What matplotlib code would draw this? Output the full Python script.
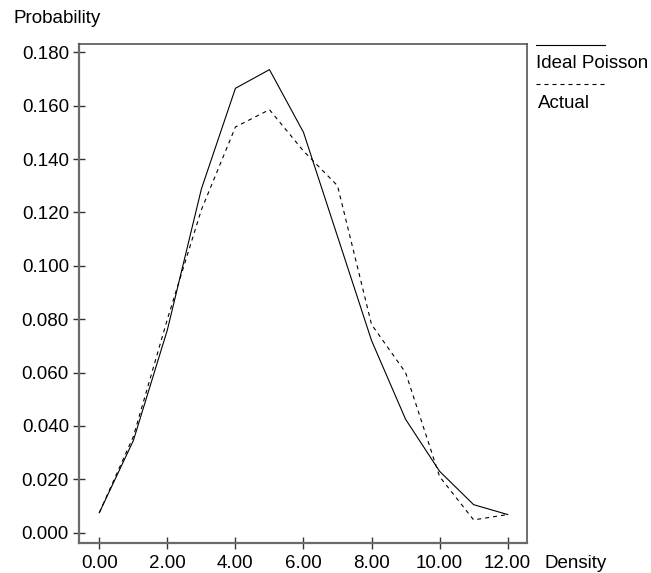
import matplotlib
matplotlib.use("Agg")
import matplotlib.pyplot as plt
from matplotlib.lines import Line2D

plt.rcParams['font.family'] = ['Liberation Sans', 'DejaVu Sans']
plt.rcParams['font.size'] = 13.5

density = [0, 1, 2, 3, 4, 5, 6, 7, 8, 9, 10, 11, 12]
ideal = [0.0075, 0.0345, 0.076, 0.1288, 0.1665, 0.1735, 0.150, 0.111, 0.072, 0.0425, 0.023, 0.0105, 0.0068]
actual = [0.0075, 0.036, 0.080, 0.121, 0.152, 0.1585, 0.143, 0.130, 0.078, 0.060, 0.021, 0.0048, 0.0068]

xticks = [0, 2, 4, 6, 8, 10, 12]
yticks = [0.0, 0.02, 0.04, 0.06, 0.08, 0.10, 0.12, 0.14, 0.16, 0.18]

W, H = 651, 573
fig = plt.figure(figsize=(W / 100, H / 100), dpi=100)
ax = fig.add_axes([79.3 / W, 1 - 542.7 / H, (527.3 - 79.3) / W, (542.7 - 44) / H])

dash = (3.6, 3.6)
ax.plot(density, ideal, color='black', lw=0.8)
ax.plot(density, actual, color='black', lw=0.8, dashes=dash)

ax.set_xlim(-0.588, 12.577)
ax.set_ylim(-0.00375, 0.1831)
ax.set_xticks(xticks)
ax.set_xticklabels([f"{v:.2f}" for v in xticks])
ax.set_yticks(yticks)
ax.set_yticklabels([f"{v:.3f}" for v in yticks])
ax.tick_params(direction='inout', length=9, width=1, color='#333333')
ax.tick_params(axis='x', pad=4.5)
ax.tick_params(axis='y', pad=3)

for side in ['left', 'bottom']:
    ax.spines[side].set_color('#6a6a6a')
    ax.spines[side].set_linewidth(1.6)
for side in ['right', 'top']:
    ax.spines[side].set_color('#555555')
    ax.spines[side].set_linewidth(1.2)

fig.text(13.3 / W, 1 - 23.3 / H, "Probability", ha='left', va='baseline')
fig.text(544 / W, 1 - 568.3 / H, "Density", ha='left', va='baseline')

# legend drawn by hand: line above its label
fig.add_artist(Line2D([536 / W, 605 / W], [1 - 45 / H] * 2, color='black', lw=0.8,
                      transform=fig.transFigure))
fig.text(536 / W, 1 - 68 / H, "Ideal Poisson", ha='left', va='baseline')
fig.add_artist(Line2D([536 / W, 607 / W], [1 - 83.5 / H] * 2, color='black', lw=0.8,
                      dashes=dash, transform=fig.transFigure))
fig.text(538 / W, 1 - 108 / H, "Actual", ha='left', va='baseline')

fig.savefig("out.png", dpi=100)
